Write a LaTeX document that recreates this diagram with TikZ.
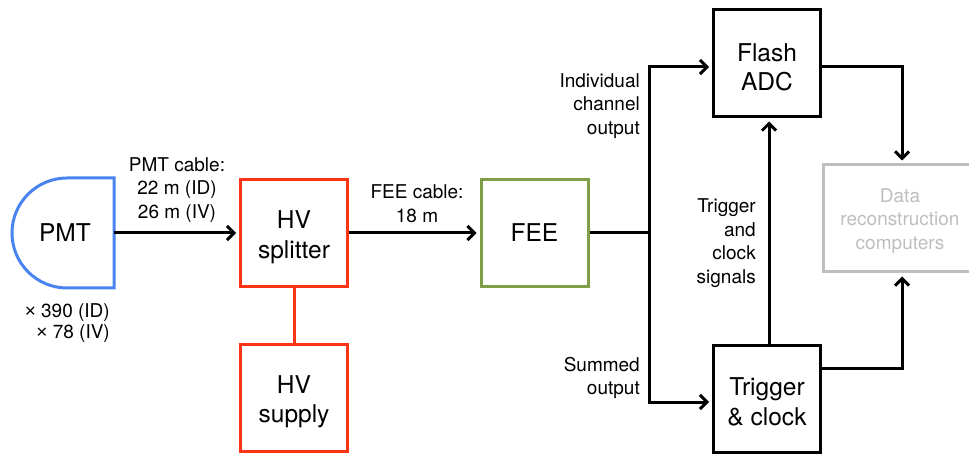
\documentclass[tikz,border=0pt]{standalone}
\usepackage{fontspec}
\setmainfont{TeX Gyre Heros}
\newfontfamily\timesfont{Liberation Sans}
\usetikzlibrary{arrows.meta}
\definecolor{pmtblue}{RGB}{72,132,240}
\definecolor{hvred}{RGB}{250,52,20}
\definecolor{feegreen}{RGB}{128,158,72}
\definecolor{datagray}{RGB}{190,190,190}
\tikzset{
  boxtext/.style={font=\fontsize{24.5}{29.5}\selectfont, align=center, inner sep=0pt},
  blk/.style={draw, line width=3pt, minimum width=107pt, minimum height=107pt, inner sep=0pt},
  lbl/.style={font=\fontsize{19}{23.5}\selectfont, inner sep=0pt},
  conn/.style={line width=3pt},
  arr/.style={conn, -{Straight Barb[length=7pt,width=14pt]}, shorten >=3pt},
}
\begin{document}
\begin{tikzpicture}[x=1pt,y=-1pt]
\useasboundingbox (0,0) rectangle (969,454);
\clip (0,0) rectangle (969,454);
% PMT
\draw[pmtblue, line width=3pt] (114,178) -- (67,178) arc[start angle=270, end angle=90, radius=55] -- (114,288) -- cycle;
\node[boxtext] (pmt) at (65,233) {PMT};
\coordinate (pmtr) at (114,233);
% boxes
\node[blk, draw=hvred] (split) at (294,233) {};
\node[boxtext] (splitt) at ([yshift=-4pt]split.center) {HV\\splitter};
\node[blk, draw=hvred] (supply) at (294,397.5) {};
\node[boxtext] (supplyt) at ([yshift=-4pt]supply.center) {HV\\supply};
\node[blk, draw=feegreen] (fee) at (534.5,233) {};
\node[boxtext] (feet) at (fee.center) {FEE};
\node[blk] (adc) at (767,63.5) {};
\node[boxtext] (adct) at ([yshift=-4pt]adc.center) {Flash\\ADC};
\node[blk] (tc) at (767,399) {};
\node[boxtext] (tct) at ([yshift=-3pt]tc.center) {Trigger\\\&~clock};
\node[blk, draw=datagray, minimum width=154pt] (data) at (900,218.5) {};
\node[lbl, align=center, text=datagray] (datat) at ([yshift=-2.5pt]data.center) {Data\\reconstruction\\computers};
% connectors
\draw[arr] (pmtr) -- (split.west);
\draw[hvred, line width=3pt] (split.south) -- (supply.north);
\draw[arr] (split.east) -- (fee.west);
\coordinate (j) at (649,233);
\draw[conn] (fee.east) -- (j);
\draw[arr] (j) |- ([yshift=-3.5pt]adc.west);
\draw[arr] (j) |- ([yshift=-3pt]tc.west);
\draw[arr] ([xshift=2pt]tc.north) -- ([xshift=2pt]adc.south);
\draw[arr] ([yshift=-3.5pt]adc.east) -| ([xshift=2pt]data.north);
\draw[arr] ([yshift=31pt]tc.east) -| ([xshift=2pt]data.south);
% labels
\node[lbl, align=center] (pmtcable) at (177,190) {PMT cable:\\22 m (ID)\\26 m (IV)};
\node[lbl, align=center] (feecable) at (417,203.5) {FEE cable:\\18 m};
\node[lbl, align=right, anchor=east, font=\fontsize{19}{21.5}\selectfont] (mult) at (110,323) {{\timesfont ×} 390 (ID)\\{\timesfont ×} 78 (IV)};
\node[lbl, align=right, anchor=east] (indiv) at (640,106) {Individual\\channel\\output};
\node[lbl, align=right, anchor=east] (summed) at (640,378) {Summed\\output};
\node[lbl, align=right, anchor=east] (trig) at (756,243) {Trigger\\and\\clock\\signals};
\end{tikzpicture}
\end{document}
